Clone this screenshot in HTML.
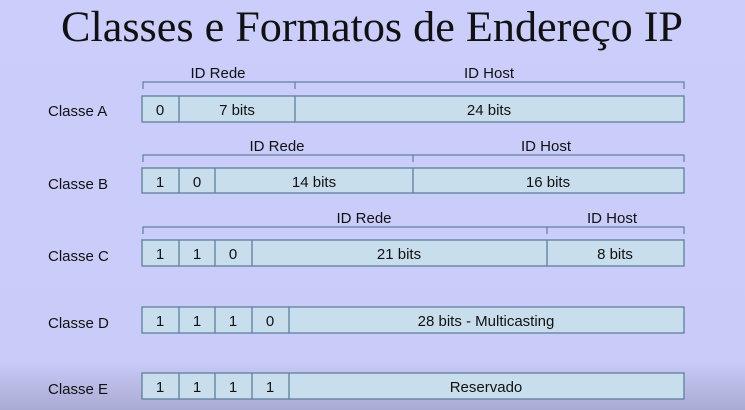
<!DOCTYPE html>
<html><head><meta charset="utf-8"><style>
html,body{margin:0;padding:0;width:745px;height:410px;overflow:hidden}
svg{display:block}
text{font-family:"Liberation Sans",sans-serif;fill:#111}
</style></head><body>
<svg width="745" height="410" viewBox="0 0 745 410">
<defs><linearGradient id="bg" x1="0" y1="0" x2="0" y2="1">
<stop offset="0" stop-color="#cbcdfb"/><stop offset="0.88" stop-color="#c9cbf8"/><stop offset="1" stop-color="#a9abd4"/></linearGradient></defs>
<rect width="745" height="410" fill="url(#bg)"/>
<text x="372" y="41" text-anchor="middle" style="font-family:'Liberation Serif',serif;font-size:43px" textLength="622" lengthAdjust="spacingAndGlyphs">Classes e Formatos de Endereço IP</text>
<g fill="#c9deec" stroke="#5f7f9c" stroke-width="1.3">
<rect x="142" y="96" width="542" height="26"/><line x1="179" y1="96" x2="179" y2="122"/><line x1="295" y1="96" x2="295" y2="122"/>
<rect x="142" y="168" width="542" height="25"/><line x1="179" y1="168" x2="179" y2="193"/><line x1="215" y1="168" x2="215" y2="193"/><line x1="413" y1="168" x2="413" y2="193"/>
<rect x="142" y="240" width="542" height="26"/><line x1="179" y1="240" x2="179" y2="266"/><line x1="215" y1="240" x2="215" y2="266"/><line x1="252" y1="240" x2="252" y2="266"/><line x1="547" y1="240" x2="547" y2="266"/>
<rect x="142" y="307" width="542" height="26"/><line x1="179" y1="307" x2="179" y2="333"/><line x1="215" y1="307" x2="215" y2="333"/><line x1="252" y1="307" x2="252" y2="333"/><line x1="289" y1="307" x2="289" y2="333"/>
<rect x="142" y="373" width="542" height="26"/><line x1="179" y1="373" x2="179" y2="399"/><line x1="215" y1="373" x2="215" y2="399"/><line x1="252" y1="373" x2="252" y2="399"/><line x1="289" y1="373" x2="289" y2="399"/>
</g>
<g fill="none" stroke="#5f7f9c" stroke-width="1.2">
<path d="M143,89 V82 H684 V89 M295,82 V89"/>
<path d="M143,162 V155 H684 V162 M413,155 V162"/>
<path d="M143,234 V227 H684 V234 M547,227 V234"/>
</g>
<g font-size="15" text-anchor="middle">
<text x="218" y="78">ID Rede</text><text x="489" y="78">ID Host</text>
<text x="277" y="151">ID Rede</text><text x="546" y="151">ID Host</text>
<text x="364" y="223">ID Rede</text><text x="612" y="223">ID Host</text>
<text x="160" y="115">0</text><text x="237" y="115">7 bits</text><text x="489" y="115">24 bits</text>
<text x="160" y="187">1</text><text x="197" y="187">0</text><text x="314" y="187">14 bits</text><text x="548" y="187">16 bits</text>
<text x="160" y="259">1</text><text x="197" y="259">1</text><text x="233" y="259">0</text><text x="399" y="259">21 bits</text><text x="615" y="259">8 bits</text>
<text x="160" y="326">1</text><text x="197" y="326">1</text><text x="233" y="326">1</text><text x="270" y="326">0</text><text x="486" y="326">28 bits - Multicasting</text>
<text x="160" y="392">1</text><text x="197" y="392">1</text><text x="233" y="392">1</text><text x="270" y="392">1</text><text x="486" y="392">Reservado</text>
</g>
<g font-size="15">
<text x="48" y="116">Classe A</text><text x="48" y="189">Classe B</text><text x="48" y="261">Classe C</text><text x="48" y="328">Classe D</text><text x="48" y="394">Classe E</text>
</g>
</svg>
</body></html>
